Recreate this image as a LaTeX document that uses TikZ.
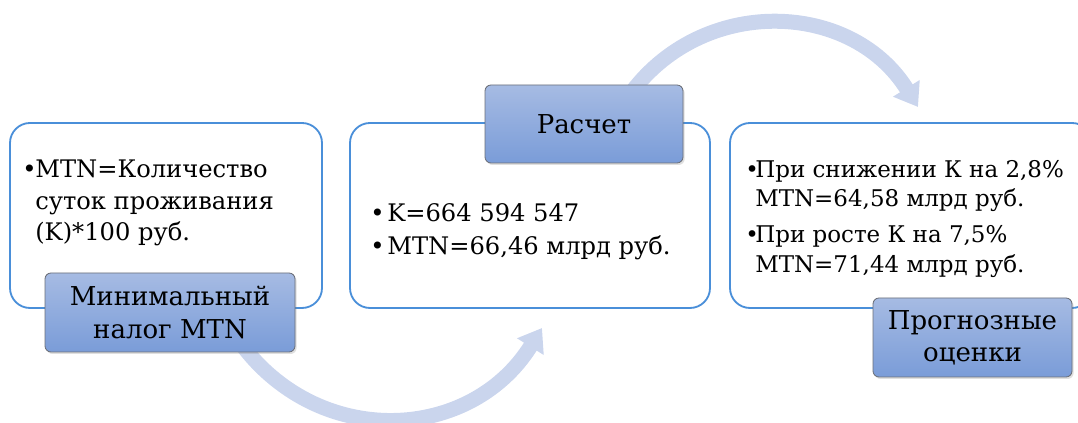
\documentclass[tikz,border=0pt]{standalone}
\usepackage{fontspec}
\newfontfamily\diagfont{DejaVu Serif}[Scale=0.86]
\usetikzlibrary{positioning, arrows.meta, shadows}
\definecolor{boxBlue}{HTML}{4A8FD9}
\definecolor{headTop}{HTML}{A6BBE3}
\definecolor{headBottom}{HTML}{7A9CD8}
\definecolor{headRim}{HTML}{6B6F78}
\definecolor{flowBlue}{HTML}{CAD5ED}

\begin{document}
\begin{tikzpicture}[
  every node/.style={font=\diagfont},
  contentbox/.style={
    rectangle, rounded corners=0.5cm,
    draw=boxBlue, line width=1.3pt, fill=white,
    minimum height=4.625cm
  },
  headbox/.style={
    rectangle, rounded corners=0.15cm,
    draw=headRim, line width=0.6pt,
    top color=headTop, bottom color=headBottom,
    align=center, inner sep=0pt,
    font=\diagfont\fontsize{21.5}{23}\selectfont,
    drop shadow={opacity=0.25, shadow xshift=0.04cm, shadow yshift=-0.05cm}
  },
  itemtext/.style={anchor=base west, inner sep=0pt, font=\diagfont\fontsize{20}{24}\selectfont},
  smalltext/.style={anchor=base west, inner sep=0pt, font=\diagfont\fontsize{19}{22}\selectfont},
  flowarrow/.style={
    flowBlue, line width=0.375cm,
    -{Triangle[length=0.55cm, width=0.75cm]}
  },
]
\clip (0,0) rectangle (26.95,10.575);

% === FLOW ARROWS (behind everything) ===
\coordinate (flowAstart) at (5.84,2.25);
\coordinate (flowAend) at (13.55,2.375);
\coordinate (flowBstart) at (15.6,8.0);
\coordinate (flowBend) at (22.95,7.9);
\draw[flowarrow] (flowAstart) to[out=-57, in=238, looseness=1.15] (flowAend);
\draw[flowarrow] (flowBstart) to[out=57, in=122, looseness=1.12] (flowBend);

% === CONTENT BOXES ===
\node[contentbox, minimum width=7.8cm] (boxmin) at (4.15,5.1875) {};
\node[contentbox, minimum width=9.0cm] (boxcalc) at (13.25,5.1875) {};
\node[contentbox, minimum width=9.05cm] (boxprog) at (22.775,5.1875) {};

% Minimal tax
\node[itemtext] (bmin) at (0.55,6.125) {•};
\node[itemtext] (tmin1) at (0.875,6.125) {MTN=Количество};
\node[itemtext] (tmin2) at (0.875,5.325) {суток проживания};
\node[itemtext] (tmin3) at (0.875,4.55) {(K)*100 руб.};

% Calculation
\node[itemtext] (bcalc1) at (9.25,5.025) {•};
\node[itemtext] (tcalc1) at (9.675,5.025) {K=664 594 547};
\node[itemtext] (bcalc2) at (9.25,4.2) {•};
\node[itemtext] (tcalc2) at (9.675,4.2) {MTN=66,46 млрд руб.};

% Forecasts
\node[smalltext] (bprog1) at (18.625,6.125) {•};
\node[smalltext] (tprog1) at (18.875,6.125) {При снижении К на 2,8\%};
\node[smalltext] (tprog2) at (18.875,5.4) {MTN=64,58 млрд руб.};
\node[smalltext] (bprog2) at (18.625,4.5) {•};
\node[smalltext] (tprog3) at (18.875,4.5) {При росте К на 7,5\%};
\node[smalltext] (tprog4) at (18.875,3.75) {MTN=71,44 млрд руб.};

% === HEADER LABELS ===
\node[headbox, minimum width=6.25cm, minimum height=1.975cm] (labmin) at (4.25,2.7625) {Минимальный\\налог MTN};
\node[headbox, minimum width=4.95cm, minimum height=1.95cm] (labcalc) at (14.6,7.475) {Расчет};
\node[headbox, minimum width=4.975cm, minimum height=1.975cm] (labprog) at (24.3125,2.1375) {Прогнозные\\оценки};

\end{tikzpicture}
\end{document}
